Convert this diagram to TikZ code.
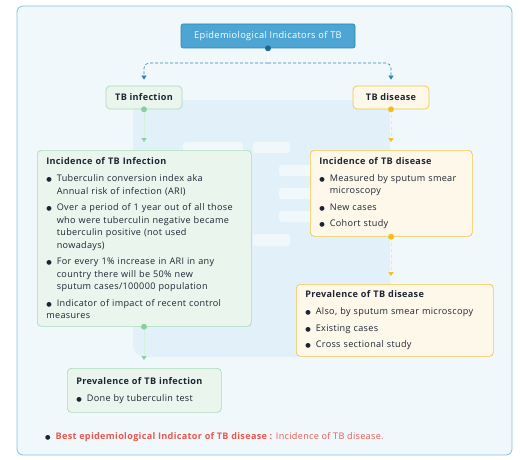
\documentclass[tikz,border=0pt]{standalone}
\usepackage{fontspec}
\setmainfont[LetterSpace=3.5]{Open Sans}
\newfontfamily\symf{DejaVu Sans}
\usetikzlibrary{arrows.meta}
\definecolor{framebd}{HTML}{86BDE3}
\definecolor{framefill}{HTML}{F1F8FC}
\definecolor{wmark}{HTML}{E2F1F9}
\definecolor{titlefill}{HTML}{4DA5D3}
\definecolor{titlebd}{HTML}{2F84B0}
\definecolor{titledot}{HTML}{1C6A91}
\definecolor{gfill}{HTML}{EAF5EE}
\definecolor{gbd}{HTML}{A9DCBC}
\definecolor{gdot}{HTML}{86D0A3}
\definecolor{yfill}{HTML}{FEF8EA}
\definecolor{ybd}{HTML}{F6C445}
\definecolor{ydot}{HTML}{F6BD1D}
\definecolor{txt}{HTML}{1D2433}
\definecolor{redtxt}{HTML}{E9594F}
\newcommand{\bodysize}{\fontsize{9.1}{12.5}\selectfont\hyphenpenalty=10000\exhyphenpenalty=10000}
\newcommand{\dotmark}{{\color{txt}\symf\fontsize{6.3}{6}\selectfont ●}}
\newcommand{\bul}{\par\vspace{4pt}\hangindent=10.5pt\hangafter=1\noindent\hbox to 10.5pt{\dotmark\hss}}
\newcommand{\nl}{\hfil\break}
\newcommand{\hd}[1]{\noindent{\bfseries #1}\par\vspace{0.5pt}}
\tikzset{
  framebox/.style={draw=framebd, fill=framefill, line width=0.8pt, rounded corners=6pt},
  titlebox/.style={draw=titlebd, fill=titlefill, text=white, rounded corners=2pt, line width=0.6pt,
    minimum width=174pt, minimum height=24pt, inner sep=0pt, font=\fontsize{9.3}{10}\selectfont},
  gbox/.style={draw=gbd, fill=gfill, rounded corners=4pt, line width=0.7pt, text=txt},
  ybox/.style={draw=ybd, fill=yfill, rounded corners=4pt, line width=0.7pt, text=txt},
  smallbox/.style={minimum width=76pt, minimum height=23pt, inner sep=0pt, font=\bfseries\fontsize{9.1}{10}\selectfont},
  bigbox/.style={anchor=north west, align=left, inner xsep=9pt, inner ysep=5pt, font=\bodysize},
  dashconn/.style={draw=titlebd, dashed, dash pattern=on 3pt off 2pt, line width=0.6pt, rounded corners=5pt,
    -{Triangle[width=5pt,length=4pt]}, shorten >=6pt},
  gconn/.style={draw=gdot!35, line width=0.6pt, -{Triangle[width=5pt,length=4pt,color=gdot,fill=gdot]}, shorten >=8pt},
  yconn/.style={draw=ydot!40, dashed, line width=0.6pt, -{Triangle[width=5pt,length=4pt,color=ydot,fill=ydot]}, shorten >=8pt},
  wbar/.style={fill=white, fill opacity=0.55, rounded corners=3pt},
}
\begin{document}
\begin{tikzpicture}[x=1pt,y=-1pt]
\useasboundingbox (0,0) rectangle (520,460);
% frame
\draw[framebox] (17,6) rectangle (512,455);
% watermark
\fill[wmark, rounded corners=12pt] (133,100) rectangle (390,357);
\foreach \y in {142,165,188,211,234,257,279,302}
  \fill[wbar] (183,\y) rectangle (243,\y+11);
\fill[wbar] (253,142) rectangle (290,153);
\fill[wbar] (253,234) rectangle (290,246);
\foreach \y in {165,188,211}
  \fill[wbar] (279,\y) rectangle (338,\y+11);
% title
\node[titlebox] (title) at (268,36) {Epidemiological Indicators of TB};
% second level
\node[gbox, smallbox] (tbinf) at (144,97.5) {TB infection};
\node[ybox, smallbox] (tbdis) at (391,97.5) {TB disease};
% incidence infection
\node[gbox, bigbox, text width=196pt, minimum height=176pt] (incinf) at (37,150) {%
\hd{Incidence of TB Infection}
\bul Tuberculin conversion index aka\nl Annual risk of infection (ARI)
\bul Over a period of 1 year out of all those\nl who were tuberculin negative became\nl tuberculin positive (not used\nl nowadays)
\bul For every 1\% increase in ARI in any\nl country there will be 50\% new\nl sputum cases/100000 population
\bul Indicator of impact of recent control\nl measures};
% prevalence infection
\node[gbox, bigbox, text width=136pt, minimum height=44pt] (previnf) at (67,368) {%
\hd{Prevalence of TB infection}
\bul Done by tuberculin test};
% incidence disease
\node[ybox, bigbox, text width=144pt, minimum height=86pt] (incdis) at (310,150) {%
\hd{Incidence of TB disease}
\bul Measured by sputum smear\nl microscopy
\bul New cases
\bul Cohort study};
% prevalence disease
\node[ybox, bigbox, text width=179pt, minimum height=72pt] (prevdis) at (296,284) {%
\hd{Prevalence of TB disease}
\bul Also, by sputum smear microscopy
\bul Existing cases
\bul Cross sectional study};
% connectors
\coordinate (hub) at (268,63);
\draw[white, line width=0.8pt] (title.south) -- (hub);
\draw[dashconn] (hub) -| (tbinf.north);
\draw[dashconn] (hub) -| (tbdis.north);
\draw[gconn] (tbinf.south) -- (incinf.north -| tbinf.south);
\draw[gconn] (incinf.south -| tbinf.south) -- (previnf.north -| tbinf.south);
\draw[yconn] (tbdis.south) -- (incdis.north -| tbdis.south);
\draw[yconn] (incdis.south -| tbdis.south) -- (prevdis.north -| tbdis.south);
% dots
\fill[titledot] (title.south) circle (3pt);
\fill[gdot] (tbinf.south) circle (3pt);
\fill[gdot] (incinf.south -| tbinf.south) circle (3pt);
\fill[ydot] (tbdis.south) circle (3pt);
\fill[ydot] (incdis.south -| tbdis.south) circle (3pt);
% note
\node[anchor=west, inner sep=0pt, font=\bodysize, text=redtxt] (note) at (45,437)
  {\dotmark\hspace{5pt}{\bfseries Best epidemiological Indicator of TB disease :} Incidence of TB disease.};
\end{tikzpicture}
\end{document}
